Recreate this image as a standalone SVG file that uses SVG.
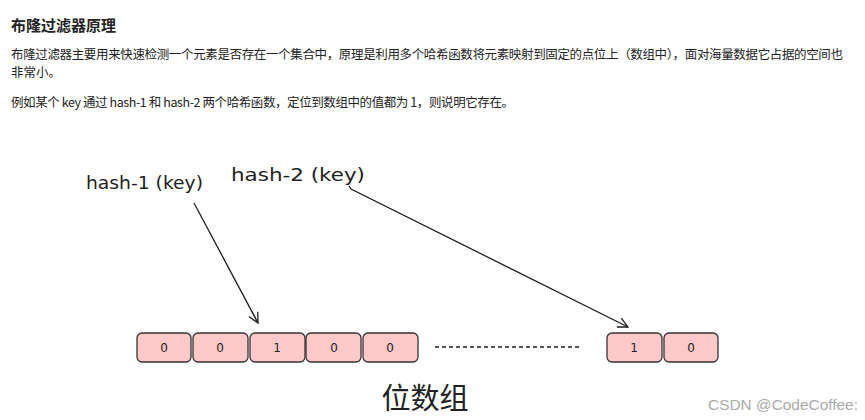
<svg xmlns="http://www.w3.org/2000/svg" width="865" height="420" viewBox="0 0 865 420">
<style>
.cn{font-family:"Noto Sans CJK SC","Noto Sans",sans-serif;fill:#222}
.hand{font-family:"DejaVu Sans","Liberation Sans",sans-serif;fill:#1e1e1e;font-size:18.5px}
.cell{fill:#ffc9c9;stroke:#333;stroke-width:1.3}
.num{font-family:"DejaVu Sans","Liberation Sans",sans-serif;font-size:12px;fill:#1e1e1e;text-anchor:middle}
.conn{stroke:#1e1e1e;stroke-width:1.3;fill:none}
</style>
<defs>
<marker id="ah" viewBox="0 0 12 12" refX="11" refY="6" markerWidth="12" markerHeight="12" markerUnits="userSpaceOnUse" orient="auto">
<path d="M1,1 L11,6 L1,11" fill="none" stroke="#1e1e1e" stroke-width="1.3"/>
</marker>
</defs>
<rect width="865" height="420" fill="#fff"/>
<g id="header">
<text class="cn" x="11" y="31" font-size="15" font-weight="bold">布隆过滤器原理</text>
<text class="cn" x="11" y="59" font-size="12.5" fill="#333" textLength="832" lengthAdjust="spacing">布隆过滤器主要用来快速检测一个元素是否存在一个集合中，原理是利用多个哈希函数将元素映射到固定的点位上（数组中），面对海量数据它占据的空间也</text>
<text class="cn" x="11" y="77" font-size="12.5">非常小。</text>
<text class="cn" x="11" y="107" font-size="12.5" textLength="503" lengthAdjust="spacing">例如某个 key 通过 hash-1 和 hash-2 两个哈希函数，定位到数组中的值都为 1，则说明它存在。</text>
</g>
<g id="label-hash1"><text class="hand" x="86" y="189" textLength="117" lengthAdjust="spacingAndGlyphs">hash-1 (key)</text></g>
<g id="label-hash2"><text class="hand" x="231" y="181" textLength="134" lengthAdjust="spacingAndGlyphs">hash-2 (key)</text></g>
<g id="cells">
<g id="c0"><rect class="cell" x="137" y="333" width="54" height="29" rx="5"/><text class="num" x="164" y="352">0</text></g>
<g id="c1"><rect class="cell" x="193" y="333" width="55" height="29" rx="5"/><text class="num" x="220" y="352">0</text></g>
<g id="c2"><rect class="cell" x="250" y="333" width="55" height="29" rx="5"/><text class="num" x="277" y="352">1</text></g>
<g id="c3"><rect class="cell" x="306" y="333" width="55" height="29" rx="5"/><text class="num" x="334" y="352">0</text></g>
<g id="c4"><rect class="cell" x="363" y="333" width="55" height="29" rx="5"/><text class="num" x="390" y="352">0</text></g>
<g id="c5"><rect class="cell" x="607" y="333" width="55" height="29" rx="5"/><text class="num" x="634" y="352">1</text></g>
<g id="c6"><rect class="cell" x="664" y="333" width="54" height="29" rx="5"/><text class="num" x="691" y="352">0</text></g>
</g>
<g id="connectors">
<line class="conn" x1="194" y1="203" x2="258" y2="323" marker-end="url(#ah)"/>
<path class="conn" d="M349,186 L351,189 L628,327" marker-end="url(#ah)"/>
<line class="conn" x1="435" y1="347" x2="579" y2="347" stroke-dasharray="4 3"/>
</g>
<g id="caption"><text class="cn" x="425" y="409" font-size="29" text-anchor="middle">位数组</text></g>
<text x="858" y="410" font-family="'Liberation Sans',Arial,sans-serif" font-size="15" fill="#aaa" text-anchor="end" textLength="150" lengthAdjust="spacingAndGlyphs">CSDN @CodeCoffee:</text>
</svg>
